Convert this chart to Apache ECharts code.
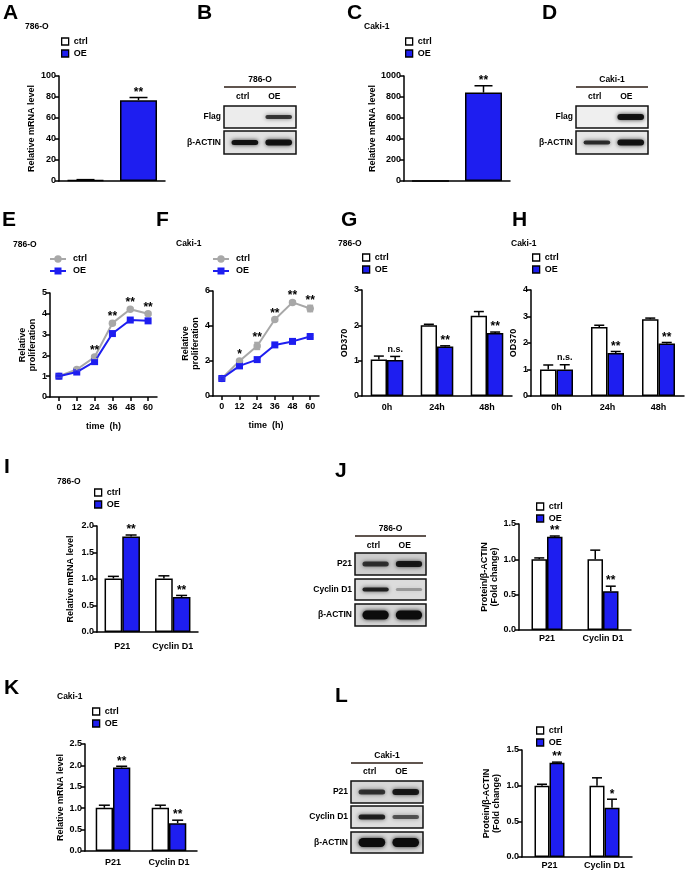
<!DOCTYPE html>
<html><head><meta charset="utf-8">
<script src="https://cdn.jsdelivr.net/npm/echarts@6/dist/echarts.min.js"></script>
<style>html,body{margin:0;padding:0;background:#fff}#c{width:685px;height:870px}</style>
</head><body><div id="c"></div>
<script>
// ---------------- DATA ----------------
const groupsAC = ['ctrl', 'OE'];
const aMean = [1, 77];      const aErr = [0.3, 2.5];   const aSig = ['', '**'];
const cMean = [1, 842];     const cErr = [0, 65];      const cSig = ['', '**'];

const timeCats = ['0', '12', '24', '36', '48', '60'];
const eCtrl = [1.0, 1.32, 1.92, 3.55, 4.22, 4.0];
const eCtrlErr = [0.03, 0.05, 0.07, 0.08, 0.05, 0.07];
const eOE = [1.0, 1.2, 1.7, 3.05, 3.7, 3.66];
const eOEErr = [0.03, 0.05, 0.06, 0.07, 0.06, 0.05];
const eSig = ['', '', '**', '**', '**', '**'];

const fCtrl = [1.0, 2.0, 2.86, 4.37, 5.35, 5.0];
const fCtrlErr = [0.05, 0.08, 0.2, 0.07, 0.08, 0.18];
const fOE = [1.0, 1.72, 2.08, 2.92, 3.12, 3.4];
const fOEErr = [0.04, 0.07, 0.07, 0.06, 0.06, 0.07];
const fSig = ['', '*', '**', '**', '**', '**'];

const dayCats = ['0h', '24h', '48h'];
const gCtrl = [1.03, 2.0, 2.27];  const gCtrlErr = [0.1, 0.03, 0.12];
const gOE = [1.02, 1.4, 1.78];    const gOEErr = [0.1, 0.02, 0.03];
const gSig = ['n.s.', '**', '**'];
const hCtrl = [1.0, 2.6, 2.9];    const hCtrlErr = [0.17, 0.07, 0.04];
const hOE = [1.0, 1.62, 1.98];    const hOEErr = [0.18, 0.06, 0.04];
const hSig = ['n.s.', '**', '**'];

const geneCats = ['P21', 'Cyclin D1'];
const iCtrl = [1.01, 1.01]; const iCtrlErr = [0.04, 0.05]; const iOE = [1.8, 0.66]; const iOEErr = [0.03, 0.03]; const iSig = ['**', '**'];
const jCtrl = [1.0, 1.0];   const jCtrlErr = [0.02, 0.13]; const jOE = [1.32, 0.55]; const jOEErr = [0.01, 0.07]; const jSig = ['**', '**'];
const kCtrl = [1.01, 1.01]; const kCtrlErr = [0.06, 0.06]; const kOE = [1.95, 0.65]; const kOEErr = [0.03, 0.07]; const kSig = ['**', '**'];
const lCtrl = [1.0, 1.0];   const lCtrlErr = [0.02, 0.11]; const lOE = [1.32, 0.69]; const lOEErr = [0.01, 0.12]; const lSig = ['**', '*'];

// western blot band intensities [ctrl, OE] (opacity, thickness)
const blotB = [['Flag', [0, 0], [0.75, 4]], ['β-ACTIN', [0.95, 5], [0.95, 6]]];
const blotD = [['Flag', [0, 0], [0.95, 6]], ['β-ACTIN', [0.8, 4], [0.95, 6]]];
const blotJ = [['P21', [0.75, 5], [0.9, 6]], ['Cyclin D1', [0.85, 4], [0.3, 3]], ['β-ACTIN', [1, 9], [1, 9]]];
const blotL = [['P21', [0.75, 5], [0.9, 6]], ['Cyclin D1', [0.85, 5], [0.6, 4]], ['β-ACTIN', [1, 9], [1, 9]]];

// ---------------- STYLE / HELPERS ----------------
const BLUE = '#1e1ef0', GREY = '#a8a8a8';
const FONT = '"Liberation Sans", Arial, Helvetica, sans-serif';
const BK = '#000';

function yAx(gi, min, max, interval, name, nameGap, dec) {
  return {type: 'value', gridIndex: gi, min, max, interval, name, nameLocation: 'middle', nameGap, nameRotate: 90,
    nameTextStyle: {fontFamily: FONT, fontWeight: 'bold', fontSize: 9, color: BK, lineHeight: 10},
    axisLine: {show: true, lineStyle: {color: BK, width: 1.5}},
    axisTick: {show: true, length: 4, lineStyle: {color: BK, width: 1.5}},
    axisLabel: {fontFamily: FONT, fontWeight: 'bold', fontSize: 9, color: BK, margin: 3,
      formatter: v => dec ? v.toFixed(dec) : String(v)},
    splitLine: {show: false}};
}
function xAx(gi, cats, showLabels, ticks, margin, name, nameGap) {
  return {type: 'category', gridIndex: gi, data: cats, boundaryGap: true,
    axisLine: {show: true, onZero: false, lineStyle: {color: BK, width: 1.5}},
    axisTick: {show: ticks, alignWithLabel: true, length: 4, lineStyle: {color: BK, width: 1.5}},
    axisLabel: {show: showLabels, interval: 0, fontFamily: FONT, fontWeight: 'bold', fontSize: 9, color: BK, margin: margin},
    name: name || '', nameLocation: 'middle', nameGap: nameGap || 0,
    nameTextStyle: {fontFamily: FONT, fontWeight: 'bold', fontSize: 9, color: BK}};
}
function bars(gi, ctrl, oe, bw, gap) {
  return [
    {type: 'bar', name: 'ctrl', xAxisIndex: gi, yAxisIndex: gi, data: ctrl, barWidth: bw, barGap: gap, silent: true,
      itemStyle: {color: '#fff', borderColor: BK, borderWidth: 1.5}},
    {type: 'bar', name: 'OE', xAxisIndex: gi, yAxisIndex: gi, data: oe, barWidth: bw, barGap: gap, silent: true,
      itemStyle: {color: BLUE, borderColor: BK, borderWidth: 1.5}}
  ];
}
function lines(gi, ctrl, oe) {
  return [
    {type: 'line', name: 'ctrl', xAxisIndex: gi, yAxisIndex: gi, data: ctrl, symbol: 'circle', symbolSize: 7.5, silent: true, z: 3,
      itemStyle: {color: GREY}, lineStyle: {color: GREY, width: 2}},
    {type: 'line', name: 'OE', xAxisIndex: gi, yAxisIndex: gi, data: oe, symbol: 'rect', symbolSize: 7, silent: true, z: 4,
      itemStyle: {color: BLUE}, lineStyle: {color: BLUE, width: 2}}
  ];
}
function errs(gi, vals, es, sigs, offset, capW, color, both) {
  return {type: 'custom', xAxisIndex: gi, yAxisIndex: gi, z: 6, silent: true,
    data: vals.map((v, i) => [i, v, es[i]]),
    renderItem(params, api) {
      const i = api.value(0), v = api.value(1), e = api.value(2);
      const s = sigs ? sigs[params.dataIndex] : '';
      const p = api.coord([i, v]), pt = api.coord([i, v + e]), pb = api.coord([i, v - e]);
      const x = p[0] + offset;
      const ch = [];
      if (e > 0) {
        ch.push({type: 'line', shape: {x1: x, y1: both ? pb[1] : p[1], x2: x, y2: pt[1]}, style: {stroke: color, lineWidth: 1.5}});
        ch.push({type: 'line', shape: {x1: x - capW / 2, y1: pt[1], x2: x + capW / 2, y2: pt[1]}, style: {stroke: color, lineWidth: 1.5}});
        if (both) ch.push({type: 'line', shape: {x1: x - capW / 2, y1: pb[1], x2: x + capW / 2, y2: pb[1]}, style: {stroke: color, lineWidth: 1.5}});
      }
      if (s) {
        const ns = s === 'n.s.';
        ch.push({type: 'text', x: x, y: pt[1] - (ns ? 7 : 5),
          style: {text: s, font: `bold ${ns ? 9 : 12}px ${FONT}`, fill: BK, align: 'center', verticalAlign: 'middle'}});
      }
      return {type: 'group', children: ch};
    }};
}
function leg(left, top) {
  return {left, top, orient: 'vertical', itemWidth: 7, itemHeight: 7, itemGap: 3, icon: 'rect', selectedMode: false, padding: 0,
    textStyle: {fontFamily: FONT, fontWeight: 'bold', fontSize: 9, color: BK},
    data: [{name: 'ctrl', itemStyle: {color: '#fff', borderColor: BK, borderWidth: 1.3}},
           {name: 'OE', itemStyle: {color: BLUE, borderColor: BK, borderWidth: 1.3}}]};
}
function txt(s, x, y, align, size, vAlign) {
  return {type: 'text', x, y, silent: true,
    style: {text: s, font: `bold ${size || 8.5}px ${FONT}`, fill: BK, align: align || 'left', verticalAlign: vAlign || 'middle'}};
}
const G = [];
function blot(x0, x1, title, titleY, lineY, laneY, rows, rowsY, bgs) {
  const w = x1 - x0;
  const bandX = [x0 + w * 0.29, x0 + w * 0.76];
  G.push(txt(title, (x0 + x1) / 2, titleY, 'center'));
  G.push({type: 'line', silent: true, shape: {x1: x0, y1: lineY, x2: x1, y2: lineY}, style: {stroke: '#2b1d14', lineWidth: 1.5}});
  G.push(txt('ctrl', x0 + w * 0.26, laneY, 'center'));
  G.push(txt('OE', x0 + w * 0.70, laneY, 'center'));
  rows.forEach((r, k) => {
    const [y0, y1] = rowsY[k];
    G.push({type: 'rect', silent: true, shape: {x: x0, y: y0, width: w, height: y1 - y0}, style: {fill: bgs[k], stroke: '#111', lineWidth: 1.5}});
    G.push(txt(r[0], x0 - 3, (y0 + y1) / 2, 'right'));
    [r[1], r[2]].forEach((b, j) => {
      if (!b[0]) return;
      const bw = w * 0.37, bh = b[1], cy = (y0 + y1) / 2;
      G.push({type: 'rect', silent: true, shape: {x: bandX[j] - bw / 2, y: cy - bh / 2, width: bw, height: bh, r: bh / 2},
        style: {fill: `rgba(12,12,12,${b[0]})`, shadowBlur: 4, shadowColor: `rgba(12,12,12,${b[0] * 0.9})`}});
    });
  });
}

// ---------------- GRAPHICS (labels, legends for lines, blots) ----------------
[['A', 3, 3], ['B', 197, 3], ['C', 347, 3], ['D', 542, 3], ['E', 2, 210], ['F', 156, 210], ['G', 341, 210], ['H', 512, 210],
 ['I', 4, 457], ['J', 335, 461], ['K', 4, 678], ['L', 335, 686]].forEach(l => G.push(txt(l[0], l[1], l[2], 'left', 21, 'top')));
[['786-O', 25, 27], ['Caki-1', 364, 27], ['786-O', 13, 245], ['Caki-1', 176, 244], ['786-O', 338, 244], ['Caki-1', 511, 244],
 ['786-O', 57, 482], ['Caki-1', 57, 697]].forEach(l => G.push(txt(l[0], l[1], l[2], 'left', 8.5)));
function lineLegend(x0, yC, yO) {
  G.push({type: 'line', silent: true, shape: {x1: x0, y1: yC, x2: x0 + 16, y2: yC}, style: {stroke: GREY, lineWidth: 2}});
  G.push({type: 'circle', silent: true, shape: {cx: x0 + 8, cy: yC, r: 3.7}, style: {fill: GREY}});
  G.push({type: 'line', silent: true, shape: {x1: x0, y1: yO, x2: x0 + 16, y2: yO}, style: {stroke: BLUE, lineWidth: 2}});
  G.push({type: 'rect', silent: true, shape: {x: x0 + 4.5, y: yO - 3.5, width: 7, height: 7}, style: {fill: BLUE}});
  G.push(txt('ctrl', x0 + 23, yC, 'left', 9)); G.push(txt('OE', x0 + 23, yO, 'left', 9));
}
lineLegend(50, 259, 271);
lineLegend(213, 259, 271);
blot(224, 296, '786-O', 80, 87, 97, blotB, [[106, 128], [131, 154]], ['#ececec', '#e2e2e2']);
blot(576, 648, 'Caki-1', 80, 87, 97, blotD, [[106, 128], [131, 154]], ['#efefef', '#e6e6e6']);
blot(355, 426, '786-O', 529, 536, 546, blotJ, [[553, 575], [579, 600], [604, 626]], ['#cdcdcd', '#dcdcdc', '#d6d6d6']);
blot(351, 423, 'Caki-1', 756, 763, 772, blotL, [[781, 803], [806, 828], [832, 853]], ['#d8d8d8', '#dedede', '#d8d8d8']);

// ---------------- OPTION ----------------
const grids = [
  {left: 59, top: 76, width: 106, height: 105},   // 0 A
  {left: 404, top: 76, width: 106, height: 105},  // 1 C
  {left: 50, top: 293, width: 107, height: 104},  // 2 E
  {left: 213, top: 291, width: 106, height: 105}, // 3 F
  {left: 362, top: 290, width: 150, height: 106}, // 4 G
  {left: 531, top: 290, width: 153, height: 106}, // 5 H
  {left: 97, top: 526, width: 101, height: 106},  // 6 I
  {left: 519, top: 524, width: 112, height: 106}, // 7 J
  {left: 85, top: 744, width: 112, height: 107},  // 8 K
  {left: 522, top: 750, width: 110, height: 107}  // 9 L
];
const xAxes = [
  xAx(0, groupsAC, false, false, 4), xAx(1, groupsAC, false, false, 4),
  xAx(2, timeCats, true, true, 6, 'time  (h)', 25), xAx(3, timeCats, true, true, 6, 'time  (h)', 25),
  xAx(4, dayCats, true, false, 7), xAx(5, dayCats, true, false, 7),
  xAx(6, geneCats, true, false, 10), xAx(7, geneCats, true, false, 4),
  xAx(8, geneCats, true, false, 7), xAx(9, geneCats, true, false, 4)
];
const yAxes = [
  yAx(0, 0, 100, 20, 'Relative mRNA level', 22), yAx(1, 0, 1000, 200, 'Relative mRNA level', 22),
  yAx(2, 0, 5, 1, 'Relative\nproliferation', 12), yAx(3, 0, 6, 2, 'Relative\nproliferation', 12),
  yAx(4, 0, 3, 1, 'OD370', 12), yAx(5, 0, 4, 1, 'OD370', 12),
  yAx(6, 0, 2, 0.5, 'Relative mRNA level', 21, 1), yAx(7, 0, 1.5, 0.5, 'Protein/β-ACTIN\n(Fold change)', 17, 1),
  yAx(8, 0, 2.5, 0.5, 'Relative mRNA level', 19, 1), yAx(9, 0, 1.5, 0.5, 'Protein/β-ACTIN\n(Fold change)', 20, 1)
];
const only = (arr, k) => arr.map((v, i) => i === k ? v : '-');
const series = [
  ...bars(0, only(aMean, 0), only(aMean, 1), 37, '-100%'),
  ...bars(1, only(cMean, 0), only(cMean, 1), 37, '-100%'),
  ...bars(4, gCtrl, gOE, 16.3, '0%'),
  ...bars(5, hCtrl, hOE, 16.5, '0%'),
  ...bars(6, iCtrl, iOE, 17.7, '0%'),
  ...bars(7, jCtrl, jOE, 15.5, '0%'),
  ...bars(8, kCtrl, kOE, 17.3, '0%'),
  ...bars(9, lCtrl, lOE, 15, '0%'),
  ...lines(2, eCtrl, eOE),
  ...lines(3, fCtrl, fOE),
  errs(0, aMean, aErr, aSig, 0, 18, BK, false),
  errs(1, cMean, cErr, cSig, 0, 18, BK, false),
  errs(4, gCtrl, gCtrlErr, null, -8.15, 10, BK, false), errs(4, gOE, gOEErr, gSig, 8.15, 10, BK, false),
  errs(5, hCtrl, hCtrlErr, null, -8.25, 10, BK, false), errs(5, hOE, hOEErr, hSig, 8.25, 10, BK, false),
  errs(6, iCtrl, iCtrlErr, null, -8.85, 11, BK, false), errs(6, iOE, iOEErr, iSig, 8.85, 11, BK, false),
  errs(7, jCtrl, jCtrlErr, null, -7.75, 10, BK, false), errs(7, jOE, jOEErr, jSig, 7.75, 10, BK, false),
  errs(8, kCtrl, kCtrlErr, null, -8.65, 11, BK, false), errs(8, kOE, kOEErr, kSig, 8.65, 11, BK, false),
  errs(9, lCtrl, lCtrlErr, null, -7.5, 10, BK, false), errs(9, lOE, lOEErr, lSig, 7.5, 10, BK, false),
  errs(2, eCtrl, eCtrlErr, eSig, 0, 6, GREY, true), errs(2, eOE, eOEErr, null, 0, 6, BLUE, true),
  errs(3, fCtrl, fCtrlErr, fSig, 0, 6, GREY, true), errs(3, fOE, fOEErr, null, 0, 6, BLUE, true)
];

const chart = echarts.init(document.getElementById('c'), null, {renderer: 'canvas'});
chart.setOption({
  animation: false,
  backgroundColor: '#fff',
  textStyle: {fontFamily: FONT},
  grid: grids, xAxis: xAxes, yAxis: yAxes,
  legend: [leg(61, 37), leg(405, 37), leg(362, 253), leg(532, 253), leg(94, 488), leg(536, 502), leg(92, 707), leg(536, 726)],
  graphic: G,
  series
});
</script></body></html>
